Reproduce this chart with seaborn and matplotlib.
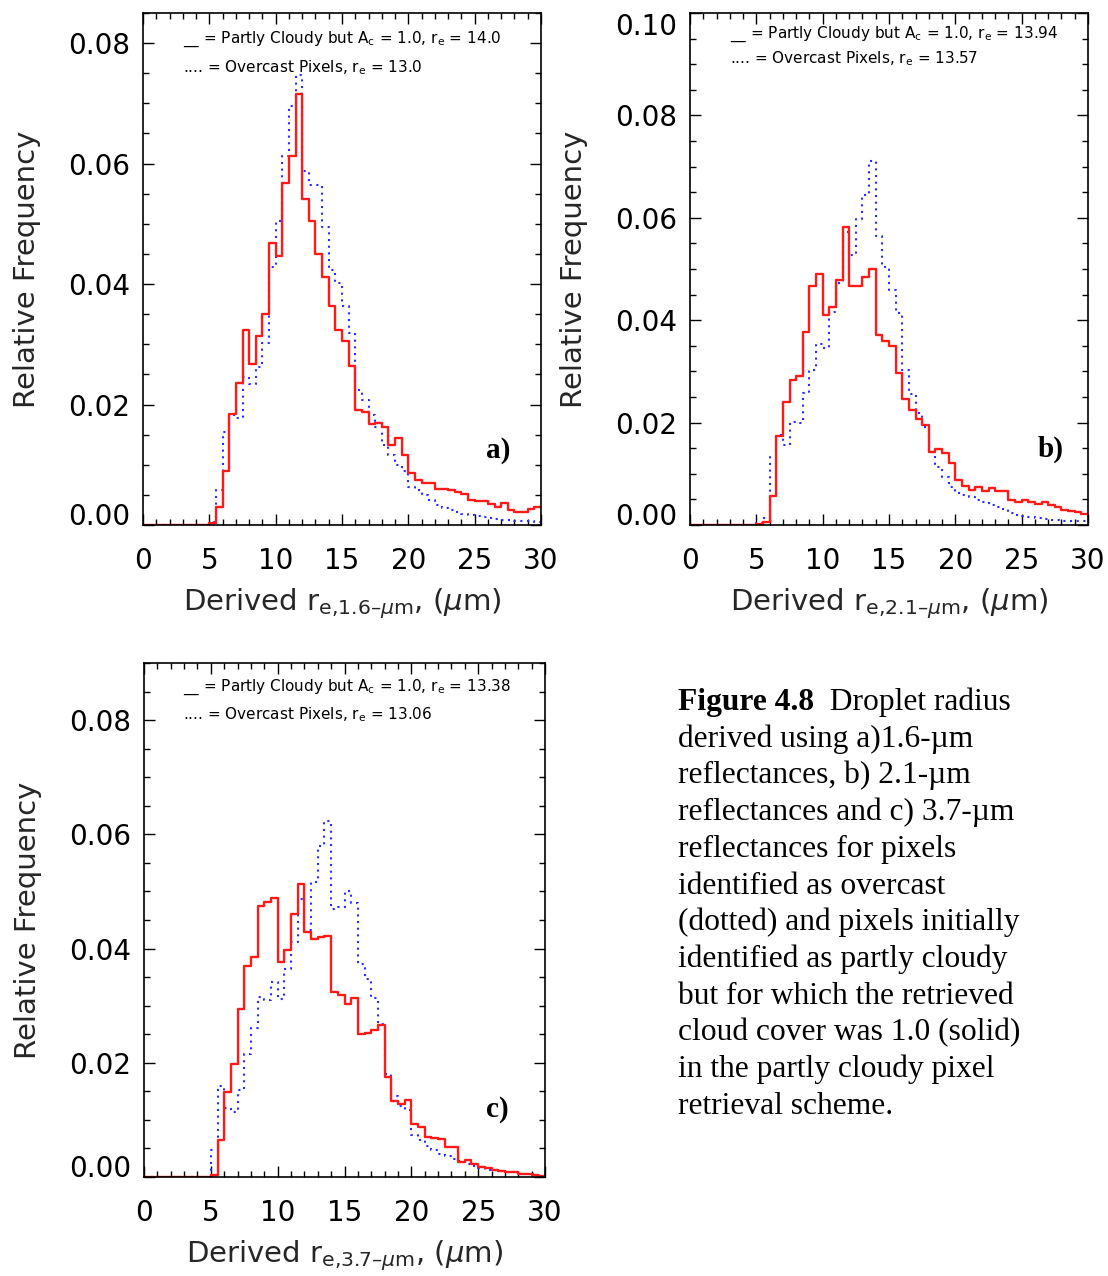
import numpy as np
import pandas as pd
import matplotlib
matplotlib.use("Agg")
import matplotlib.pyplot as plt
from matplotlib.ticker import MultipleLocator, FormatStrFormatter
from matplotlib.transforms import IdentityTransform
import seaborn as sns

# ---------------- data ----------------
bin_width = 0.5
bin_range = (0.0, 30.0)
bin_centers = np.arange(5.25, 30.0, bin_width)                    # bins 5.0-5.5 ... 29.5-30.0

a_partly = [0.0004, 0.0030, 0.0089, 0.0185, 0.0235, 0.0324, 0.0268, 0.0313, 0.0350, 0.0468,
            0.0447, 0.0567, 0.0613, 0.0715, 0.0541, 0.0505, 0.0450, 0.0412, 0.0363, 0.0324,
            0.0306, 0.0264, 0.0191, 0.0188, 0.0167, 0.0169, 0.0162, 0.0133, 0.0145, 0.0116,
            0.0087, 0.0075, 0.0069, 0.0070, 0.0060, 0.0060, 0.0058, 0.0054, 0.0051, 0.0042,
            0.0040, 0.0040, 0.0035, 0.0030, 0.0037, 0.0025, 0.0022, 0.0021, 0.0027, 0.0030]
a_overcast = [0.0005, 0.0058, 0.0155, 0.0183, 0.0177, 0.0246, 0.0234, 0.0262, 0.0302, 0.0428,
              0.0505, 0.0612, 0.0695, 0.0747, 0.0587, 0.0565, 0.0565, 0.0495, 0.0423, 0.0401,
              0.0364, 0.0319, 0.0224, 0.0208, 0.0183, 0.0163, 0.0133, 0.0116, 0.0100, 0.0089,
              0.0063, 0.0058, 0.0050, 0.0042, 0.0033, 0.0029, 0.0025, 0.0022, 0.0019, 0.0017,
              0.0015, 0.0013, 0.0011, 0.0010, 0.0009, 0.0008, 0.0007, 0.0007, 0.0006, 0.0005]

b_partly = [0.0002, 0.0006, 0.0057, 0.0174, 0.0241, 0.0284, 0.0291, 0.0376, 0.0467, 0.0490,
            0.0410, 0.0425, 0.0478, 0.0582, 0.0467, 0.0466, 0.0484, 0.0500, 0.0371, 0.0359,
            0.0350, 0.0296, 0.0246, 0.0225, 0.0208, 0.0195, 0.0143, 0.0148, 0.0140, 0.0121,
            0.0088, 0.0076, 0.0068, 0.0074, 0.0067, 0.0072, 0.0067, 0.0067, 0.0049, 0.0044,
            0.0048, 0.0044, 0.0041, 0.0044, 0.0039, 0.0036, 0.0029, 0.0028, 0.0025, 0.0021]
b_overcast = [0.0003, 0.0014, 0.0132, 0.0176, 0.0156, 0.0201, 0.0200, 0.0258, 0.0302, 0.0353,
              0.0346, 0.0416, 0.0472, 0.0572, 0.0527, 0.0598, 0.0645, 0.0710, 0.0564, 0.0503,
              0.0459, 0.0415, 0.0302, 0.0256, 0.0218, 0.0192, 0.0143, 0.0113, 0.0094, 0.0075,
              0.0063, 0.0059, 0.0054, 0.0049, 0.0044, 0.0039, 0.0035, 0.0031, 0.0023, 0.0020,
              0.0018, 0.0015, 0.0013, 0.0011, 0.0010, 0.0009, 0.0008, 0.0008, 0.0007, 0.0007]

c_partly = [0.0003, 0.0065, 0.0148, 0.0198, 0.0295, 0.0369, 0.0386, 0.0475, 0.0481, 0.0489,
            0.0376, 0.0398, 0.0460, 0.0513, 0.0429, 0.0417, 0.0420, 0.0422, 0.0324, 0.0319,
            0.0303, 0.0314, 0.0251, 0.0252, 0.0258, 0.0267, 0.0175, 0.0133, 0.0128, 0.0134,
            0.0093, 0.0088, 0.0070, 0.0068, 0.0066, 0.0053, 0.0053, 0.0026, 0.0029, 0.0023,
            0.0018, 0.0015, 0.0013, 0.0011, 0.0009, 0.0008, 0.0006, 0.0005, 0.0003, 0.0002]
c_overcast = [0.0047, 0.0159, 0.0120, 0.0114, 0.0152, 0.0216, 0.0261, 0.0316, 0.0310, 0.0341,
              0.0312, 0.0365, 0.0411, 0.0487, 0.0433, 0.0516, 0.0580, 0.0623, 0.0470, 0.0472,
              0.0500, 0.0480, 0.0373, 0.0347, 0.0314, 0.0268, 0.0181, 0.0141, 0.0125, 0.0117,
              0.0073, 0.0064, 0.0055, 0.0048, 0.0041, 0.0036, 0.0032, 0.0028, 0.0023, 0.0020,
              0.0016, 0.0013, 0.0012, 0.0010, 0.0009, 0.0008, 0.0006, 0.0006, 0.0005, 0.0004]

x_ticks = [0, 5, 10, 15, 20, 25, 30]
y_ticks_ac = [0.00, 0.02, 0.04, 0.06, 0.08]
y_ticks_b = [0.00, 0.02, 0.04, 0.06, 0.08, 0.10]
panel_letters = ["a)", "b)", "c)"]
wavelengths = ["1.6", "2.1", "3.7"]
partly_means = ["14.0", "13.94", "13.38"]
overcast_means = ["13.0", "13.57", "13.06"]

caption_lines = [
    ("Figure 4.8", "  Droplet radius"),
    ("", "derived using a)1.6-\u00b5m"),
    ("", "reflectances, b) 2.1-\u00b5m"),
    ("", "reflectances and c) 3.7-\u00b5m"),
    ("", "reflectances for pixels"),
    ("", "identified as overcast"),
    ("", "(dotted) and pixels initially"),
    ("", "identified as partly cloudy"),
    ("", "but for which the retrieved"),
    ("", "cloud cover was 1.0 (solid)"),
    ("", "in the partly cloudy pixel"),
    ("", "retrieval scheme."),
]

# ---------------- style ----------------
sns.set_theme(style="ticks")
plt.rcParams.update({
    "font.family": ["DejaVu Sans"],
    "mathtext.fontset": "dejavusans",
    "axes.linewidth": 1.2,
    "axes.edgecolor": "black",
    "xtick.color": "black",
    "ytick.color": "black",
    "text.color": "black",
})

W, H = 1108, 1276
fig = plt.figure(figsize=(W / 100, H / 100), dpi=100)


def px_axes(left, top, right, bottom):
    return fig.add_axes([left / W, 1 - bottom / H, (right - left) / W, (bottom - top) / H])


axes = [px_axes(143, 13, 541, 525), px_axes(690, 13, 1088, 525), px_axes(144, 663, 545, 1177)]
ymaxes = [0.085, 0.10, 0.09]
yticks_all = [y_ticks_ac, y_ticks_b, y_ticks_ac]
partly_all = [a_partly, b_partly, c_partly]
overcast_all = [a_overcast, b_overcast, c_overcast]
letter_pos = [(0.892, 0.146), (0.905, 0.148), (0.880, 0.132)]
legend_pos = [(0.100, 0.949, 0.893), (0.100, 0.959, 0.910), (0.097, 0.953, 0.899)]

for i, ax in enumerate(axes):
    df = pd.DataFrame({"r": bin_centers, "partly": partly_all[i], "overcast": overcast_all[i]})
    sns.histplot(data=df, x="r", weights="overcast", binwidth=bin_width, binrange=bin_range,
                 element="step", fill=False, color="#2b2bff", linestyle=(0, (1, 2.2)),
                 linewidth=1.5, ax=ax)
    sns.histplot(data=df, x="r", weights="partly", binwidth=bin_width, binrange=bin_range,
                 element="step", fill=False, color="#ff1a1a", linewidth=1.7, ax=ax)
    ax.set_xlim(0, 30)
    ax.set_ylim(0, ymaxes[i])
    ax.set_xticks(x_ticks)
    ax.set_yticks(yticks_all[i])
    ax.xaxis.set_minor_locator(MultipleLocator(1))
    ax.yaxis.set_minor_locator(MultipleLocator(0.005))
    ax.yaxis.set_major_formatter(FormatStrFormatter("%.2f"))
    ax.tick_params(which="both", direction="in", top=True, right=True, width=1.0)
    ax.tick_params(which="major", length=8)
    ax.tick_params(which="minor", length=4.5)
    ax.tick_params(axis="x", which="major", labelsize=20, pad=16)
    ax.tick_params(axis="y", which="major", labelsize=20, pad=9)
    for sp in ax.spines.values():
        sp.set_visible(True)
        sp.set_linewidth(1.2)
    ax.set_ylabel("Relative Frequency", fontsize=21, labelpad=20)
    ax.set_xlabel("Derived r$_{\\mathregular{e{,}1.6}\u2013\\mu\\mathregular{m}}$, ($\\mu$m)".replace("1.6", wavelengths[i]),
                  fontsize=21, labelpad=8)
    # shift end labels inside like the original
    yt = ax.yaxis.get_major_ticks()
    yt[0].label1.set_verticalalignment("baseline")
    if i == 1:
        yt[-1].label1.set_verticalalignment("top")

    lx, ly1, ly2 = legend_pos[i]
    ax.text(lx, ly1, r"__ = Partly Cloudy but A$_\mathregular{c}$ = 1.0, r$_\mathregular{e}$ = %s" % partly_means[i],
            transform=ax.transAxes, fontsize=11, va="center", ha="left")
    ax.text(lx, ly2, r".... = Overcast Pixels, r$_\mathregular{e}$ = %s" % overcast_means[i],
            transform=ax.transAxes, fontsize=11, va="center", ha="left")
    px, py = letter_pos[i]
    ax.text(px, py, panel_letters[i], transform=ax.transAxes, fontsize=21,
            fontfamily="Liberation Serif", fontweight="bold", ha="center", va="center")

# ---------------- caption ----------------
renderer = fig.canvas.get_renderer()
x0 = 678
for k, (bold, rest) in enumerate(caption_lines):
    ybase = H - (710 + 36.73 * k)
    x = x0
    if bold:
        t = fig.text(x, ybase, bold, transform=IdentityTransform(), fontsize=22.7,
                     fontfamily="Liberation Serif", fontweight="bold", va="baseline", ha="left")
        x = t.get_window_extent(renderer).x1
    fig.text(x, ybase, rest, transform=IdentityTransform(), fontsize=22.7,
             fontfamily="Liberation Serif", va="baseline", ha="left")

fig.savefig("out.png", dpi=100)
